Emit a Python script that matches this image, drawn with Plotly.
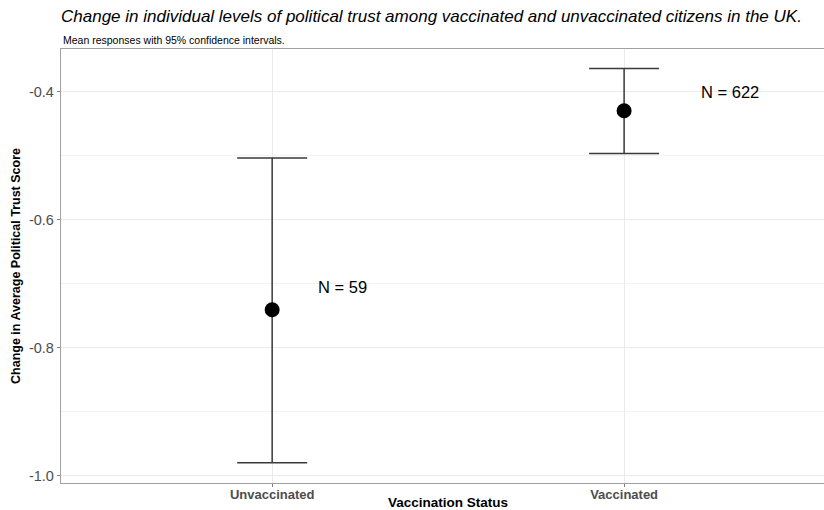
import plotly.graph_objects as go

categories = ["Unvaccinated", "Vaccinated"]
means = [-0.741, -0.430]
ci_low = [-0.980, -0.497]
ci_high = [-0.504, -0.364]
n_labels = ["N = 59", "N = 622"]
n_label_y = [-0.705, -0.40]
n_label_dx = [0.2, 0.3]
y_ticks = [-1.0, -0.8, -0.6, -0.4]

xpos = [i + 1 for i in range(len(categories))]
err_plus = [h - m for h, m in zip(ci_high, means)]
err_minus = [m - l for m, l in zip(means, ci_low)]

fig = go.Figure()
fig.add_trace(go.Scatter(
    x=xpos, y=means, mode="markers",
    marker=dict(color="black", size=15),
    error_y=dict(type="data", symmetric=False, array=err_plus, arrayminus=err_minus,
                 color="#3a3a3a", thickness=1.5, width=35),
    showlegend=False, hoverinfo="skip",
))

for x, lab, ly, dx in zip(xpos, n_labels, n_label_y, n_label_dx):
    fig.add_annotation(x=x + dx, y=ly, text=lab, showarrow=False,
                       font=dict(family="Liberation Sans, Arial", size=16.5, color="black"))

fig.update_layout(
    width=824, height=510,
    margin=dict(l=61, r=0, t=49, b=27),
    paper_bgcolor="white", plot_bgcolor="white",
    font=dict(family="Liberation Sans, Arial", color="#4d4d4d"),
    title=dict(
        text="<i>Change in individual levels of political trust among vaccinated and unvaccinated citizens in the UK.</i>",
        x=61 / 824, xanchor="left", y=1 - 16 / 510, yanchor="middle",
        font=dict(size=17, color="black", family="Liberation Sans, Arial"),
    ),
)
fig.add_annotation(text="Mean responses with 95% confidence intervals.", xref="paper", yref="paper",
                   x=0, y=1, xanchor="left", yanchor="bottom", yshift=1, showarrow=False,
                   font=dict(size=10.5, color="black", family="Liberation Sans, Arial"))
# x-axis title placed just below the tick labels
fig.add_annotation(text="<b>Vaccination Status</b>", xref="paper", yref="paper",
                   x=(448 - 61) / 763, y=0, xanchor="center", yanchor="middle", yshift=-19,
                   showarrow=False, font=dict(size=13.5, color="black", family="Liberation Sans, Arial"))

fig.update_xaxes(
    range=[0.4, 2.568], tickvals=xpos, ticktext=["<b>%s</b>" % c for c in categories],
    tickfont=dict(size=13, color="#4d4d4d"), automargin=False, ticklabelstandoff=-4,
    showgrid=True, gridcolor="#ebebeb", gridwidth=1,
    showline=True, linecolor="#a0a0a0", linewidth=1.3, mirror=True,
    ticks="outside", ticklen=3, tickcolor="#808080", zeroline=False,
)
fig.update_yaxes(
    range=[-1.0117, -0.3336], tickvals=y_ticks, ticktext=["%.1f" % v for v in y_ticks],
    tickfont=dict(size=14.5, color="#4d4d4d"), automargin=False,
    showgrid=True, gridcolor="#ebebeb", gridwidth=1,
    minor=dict(dtick=0.1, tick0=-1.0, showgrid=True, gridcolor="#f2f2f2", ticks=""),
    showline=True, linecolor="#a0a0a0", linewidth=1.3, mirror=False,
    ticks="outside", ticklen=3, tickcolor="#808080", zeroline=False,
    title=dict(text="<b>Change in Average Political Trust Score</b>", font=dict(size=12.5, color="black"), standoff=5),
)

fig.write_html("out.html")
